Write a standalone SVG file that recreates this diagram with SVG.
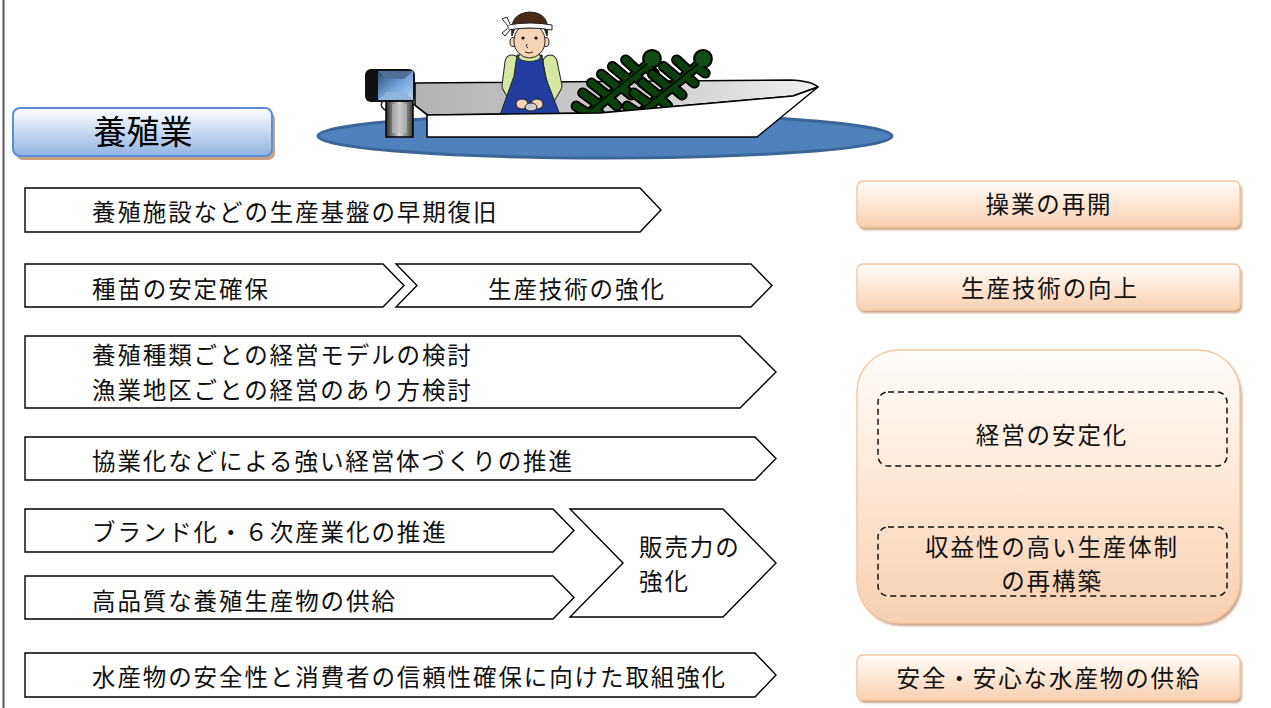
<svg xmlns="http://www.w3.org/2000/svg" width="1271" height="708" viewBox="0 0 1271 708">
  <defs>
    <linearGradient id="gBlue" x1="0" y1="0" x2="0" y2="1">
      <stop offset="0" stop-color="#ffffff"/>
      <stop offset="1" stop-color="#92b2e0"/>
    </linearGradient>
    <linearGradient id="gPeach" x1="0" y1="0" x2="0" y2="1">
      <stop offset="0" stop-color="#fffdfb"/>
      <stop offset="1" stop-color="#f9d0b0"/>
    </linearGradient>
    <linearGradient id="gInterior" x1="0" y1="0" x2="1" y2="0">
      <stop offset="0" stop-color="#b3b3b3"/>
      <stop offset="0.7" stop-color="#d6d6d6"/>
      <stop offset="1" stop-color="#f0f0f0"/>
    </linearGradient>
    <linearGradient id="gMotor" x1="0" y1="0" x2="1" y2="1">
      <stop offset="0" stop-color="#2a4a78"/>
      <stop offset="0.5" stop-color="#6f9fd6"/>
      <stop offset="1" stop-color="#b9d6f2"/>
    </linearGradient>
    <linearGradient id="gShaft" x1="0" y1="0" x2="1" y2="0">
      <stop offset="0" stop-color="#2b2b2b"/>
      <stop offset="0.5" stop-color="#d9d9d9"/>
      <stop offset="1" stop-color="#3a3a3a"/>
    </linearGradient>
    <filter id="soft" x="-5%" y="-5%" width="110%" height="115%">
      <feGaussianBlur stdDeviation="1.2"/>
    </filter>
    <!-- one kelp frond, base at origin -->
    <g id="kelp">
      <g fill="none" stroke="#000" stroke-width="10" stroke-linecap="round" stroke-linejoin="round">
        <path d="M0,0 L60,-50"/>
        <path d="M12,-10 L-3,-21 M21,-17.5 L5,-30 M30,-25 L14,-38 M39,-32.5 L24,-45 M48,-40 L36,-51"/>
        <path d="M8,-6.5 L15,1 M20,-16.5 L28,-9 M32,-26.5 L41,-19 M44,-36.5 L52,-30 M54,-45 L62,-39"/>
        <path d="M2,-2 L-9,-9 M3,-1 L-3,7"/>
      </g>
      <circle cx="60" cy="-52" r="9" fill="#000"/>
      <g fill="none" stroke="#0b3f0d" stroke-width="6.5" stroke-linecap="round" stroke-linejoin="round">
        <path d="M0,0 L60,-50"/>
        <path d="M12,-10 L-3,-21 M21,-17.5 L5,-30 M30,-25 L14,-38 M39,-32.5 L24,-45 M48,-40 L36,-51"/>
        <path d="M8,-6.5 L15,1 M20,-16.5 L28,-9 M32,-26.5 L41,-19 M44,-36.5 L52,-30 M54,-45 L62,-39"/>
        <path d="M2,-2 L-9,-9 M3,-1 L-3,7"/>
      </g>
      <circle cx="60" cy="-52" r="7" fill="#124d14"/>
      <path d="M4,-6 L56,-48" stroke="#000" stroke-width="1.2" fill="none"/>
    </g>
  </defs>
  <style>
    .arrow { fill: #ffffff; stroke: #000000; stroke-width: 1.4; stroke-linejoin: miter; }
    .lbl { font-family: "Noto Sans CJK JP", "Noto Sans CJK SC", sans-serif; font-size: 23.5px; letter-spacing: 1.9px; fill: #111111; }
    .mid { text-anchor: middle; }
    .goal { fill: url(#gPeach); stroke: #f5c8a2; stroke-width: 1.5; }
    .shadow { fill: #c9a286; filter: url(#soft); }
    .dash { fill: none; stroke: #111111; stroke-width: 1.5; stroke-dasharray: 6 4; }
    .title { font-family: "Noto Sans CJK JP", "Noto Sans CJK SC", sans-serif; font-size: 33px; fill: #000000; }
  </style>

  <!-- page edge -->
  <line x1="3.5" y1="0" x2="3.5" y2="708" stroke="#595959" stroke-width="2"/>

  <!-- section heading -->
  <g id="heading">
    <rect x="16" y="112" width="259" height="48" rx="7" fill="#c9a080"/>
    <rect x="13" y="108" width="259" height="48" rx="7" fill="url(#gBlue)" stroke="#5a8ed6" stroke-width="2"/>
    <text class="title" x="143" y="144" text-anchor="middle">養殖業</text>
  </g>

  <!-- boat scene -->
  <g id="boat-scene">
    <ellipse cx="605" cy="136" rx="287" ry="22" fill="#4f81bd" stroke="#3b6698" stroke-width="3"/>
    <!-- hull interior -->
    <path d="M415,83 L790,80 Q812,81 818,87 L793,96 L600,113 L427,115 L415,105 Z" fill="url(#gInterior)" stroke="#000" stroke-width="1.5" stroke-linejoin="round"/>
    <!-- fisherman -->
    <g id="fisherman" stroke="#222" stroke-width="1">
      <g fill="none" stroke-linecap="round" stroke-linejoin="round">
        <path d="M512,62 L509,86 L519,103" stroke="#222" stroke-width="15"/>
        <path d="M550,62 L555,86 L545,103" stroke="#222" stroke-width="15"/>
        <path d="M512,62 L509,86 L519,103" stroke="#d5e7a0" stroke-width="13"/>
        <path d="M550,62 L555,86 L545,103" stroke="#d5e7a0" stroke-width="13"/>
      </g>
      <path d="M517,55 L542,55 L545,76 L560,115 L500,115 L514,76 Z" fill="#213e9e"/>
      <ellipse cx="529.5" cy="57" rx="11" ry="4.5" fill="#d5e7a0"/>
      <ellipse cx="522" cy="104" rx="6" ry="5" fill="#f6d4b4"/>
      <ellipse cx="537" cy="104" rx="6" ry="5" fill="#f6d4b4"/>
      <ellipse cx="531" cy="107" rx="6" ry="4" fill="#c9ccd2"/>
      <ellipse cx="513" cy="42" rx="3" ry="4.5" fill="#f6d4b4"/>
      <ellipse cx="546" cy="42" rx="3" ry="4.5" fill="#f6d4b4"/>
      <ellipse cx="529.5" cy="41" rx="15.5" ry="17" fill="#f6d4b4"/>
      <path d="M512,36 Q509,13 530,12 Q551,13 547,36 L544,28 L515,28 Z" fill="#4a2a18"/>
      <path d="M508,25 Q530,21 552,25 L552,30 Q530,26 508,30 Z" fill="#ffffff"/>
      <path d="M508,26 L502,19 L507,17 L510,24 M507,29 L502,33 L505,36 L510,30" fill="#ffffff"/>
      <circle cx="523" cy="38" r="1.6" fill="#111" stroke="none"/>
      <circle cx="536" cy="38" r="1.6" fill="#111" stroke="none"/>
      <path d="M527,44 Q525,47 528,48 M525,52 Q529,54 533,52" fill="none"/>
    </g>
    <!-- kelp fronds -->
    <use href="#kelp" transform="translate(586,116) scale(1.1)"/>
    <use href="#kelp" transform="translate(637,116) scale(1.1)"/>
    <!-- hull side -->
    <path d="M427,115 L600,113 L793,96 L818,87 L757,137 L427,137 Z" fill="#ffffff" stroke="#000" stroke-width="1.5" stroke-linejoin="round"/>
    <line x1="413" y1="104" x2="428" y2="115" stroke="#000" stroke-width="1.5"/>
    <!-- outboard motor -->
    <g id="motor">
      <path d="M383,101 Q377,108 392,113" fill="none" stroke="#222" stroke-width="1.5"/>
      <rect x="386" y="100" width="27" height="37" fill="url(#gShaft)" stroke="#000" stroke-width="1.5"/>
      <rect x="392" y="104" width="15" height="29" fill="#bdbdbd" opacity="0.6"/>
      <rect x="365" y="69" width="50" height="33" rx="6" fill="#111"/>
      <path d="M378,71 L413,71 L413,100 L378,100 Z" fill="url(#gMotor)"/>
      <path d="M378,71 L413,71 L404,79 L387,79 Z" fill="#4f6f99"/>
      <path d="M378,100 L413,100 L404,92 L387,92 Z" fill="#8fb4dc"/>
    </g>
  </g>

  <!-- measures (left column) -->
  <g id="m1">
    <path class="arrow" d="M25,188 H640 L661,210 L640,232 H25 Z"/>
    <text class="lbl" x="92" y="221">養殖施設などの生産基盤の早期復旧</text>
  </g>
  <g id="m2">
    <path class="arrow" d="M25,264 H383 L404,285.5 L383,307 H25 Z"/>
    <text class="lbl" x="92" y="298">種苗の安定確保</text>
  </g>
  <g id="m3">
    <path class="arrow" d="M396,264 H751 L772,285.5 L751,307 H396 L417,285.5 Z"/>
    <text class="lbl" x="488" y="298">生産技術の強化</text>
  </g>
  <g id="m4">
    <path class="arrow" d="M25,336 H740 L776,372 L740,408 H25 Z"/>
    <text class="lbl" x="92" y="364">養殖種類ごとの経営モデルの検討<tspan x="92" dy="35">漁業地区ごとの経営のあり方検討</tspan></text>
  </g>
  <g id="m5">
    <path class="arrow" d="M25,437 H755 L776,458.5 L755,480 H25 Z"/>
    <text class="lbl" x="92" y="470">協業化などによる強い経営体づくりの推進</text>
  </g>
  <g id="m6">
    <path class="arrow" d="M25,509 H553 L574,530.5 L553,552 H25 Z"/>
    <text class="lbl" x="92" y="541">ブランド化・６次産業化の推進</text>
  </g>
  <g id="m7">
    <path class="arrow" d="M25,576 H553 L574,597.5 L553,619 H25 Z"/>
    <text class="lbl" x="92" y="610">高品質な養殖生産物の供給</text>
  </g>
  <g id="m8">
    <path class="arrow" d="M570,509 H723 L776,563 L723,617 H570 L623,563 Z"/>
    <text class="lbl" x="639" y="556">販売力の<tspan x="639" dy="34">強化</tspan></text>
  </g>
  <g id="m9">
    <path class="arrow" d="M25,653 H755 L776,675 L755,697 H25 Z"/>
    <text class="lbl" x="92" y="686">水産物の安全性と消費者の信頼性確保に向けた取組強化</text>
  </g>

  <!-- goals (right column) -->
  <g id="g1">
    <rect class="shadow" x="859" y="184" width="383" height="46" rx="6"/>
    <rect class="goal" x="857" y="181" width="383" height="46" rx="6"/>
    <text class="lbl mid" x="1049" y="213">操業の再開</text>
  </g>
  <g id="g2">
    <rect class="shadow" x="859" y="267" width="383" height="46" rx="6"/>
    <rect class="goal" x="857" y="264" width="383" height="46" rx="6"/>
    <text class="lbl mid" x="1050" y="297">生産技術の向上</text>
  </g>
  <g id="g3">
    <rect class="shadow" x="859" y="353" width="383" height="273" rx="42"/>
    <rect class="goal" x="857" y="350" width="383" height="273" rx="42"/>
    <rect class="dash" x="878" y="392" width="349" height="74" rx="10"/>
    <text class="lbl mid" x="1052" y="444">経営の安定化</text>
    <rect class="dash" x="878" y="527" width="349" height="69" rx="10"/>
    <text class="lbl mid" x="1052" y="556">収益性の高い生産体制<tspan x="1052" dy="34">の再構築</tspan></text>
  </g>
  <g id="g4">
    <rect class="shadow" x="859" y="658" width="383" height="45" rx="6"/>
    <rect class="goal" x="857" y="655" width="383" height="45" rx="6"/>
    <text class="lbl mid" x="1049" y="687">安全・安心な水産物の供給</text>
  </g>
</svg>
